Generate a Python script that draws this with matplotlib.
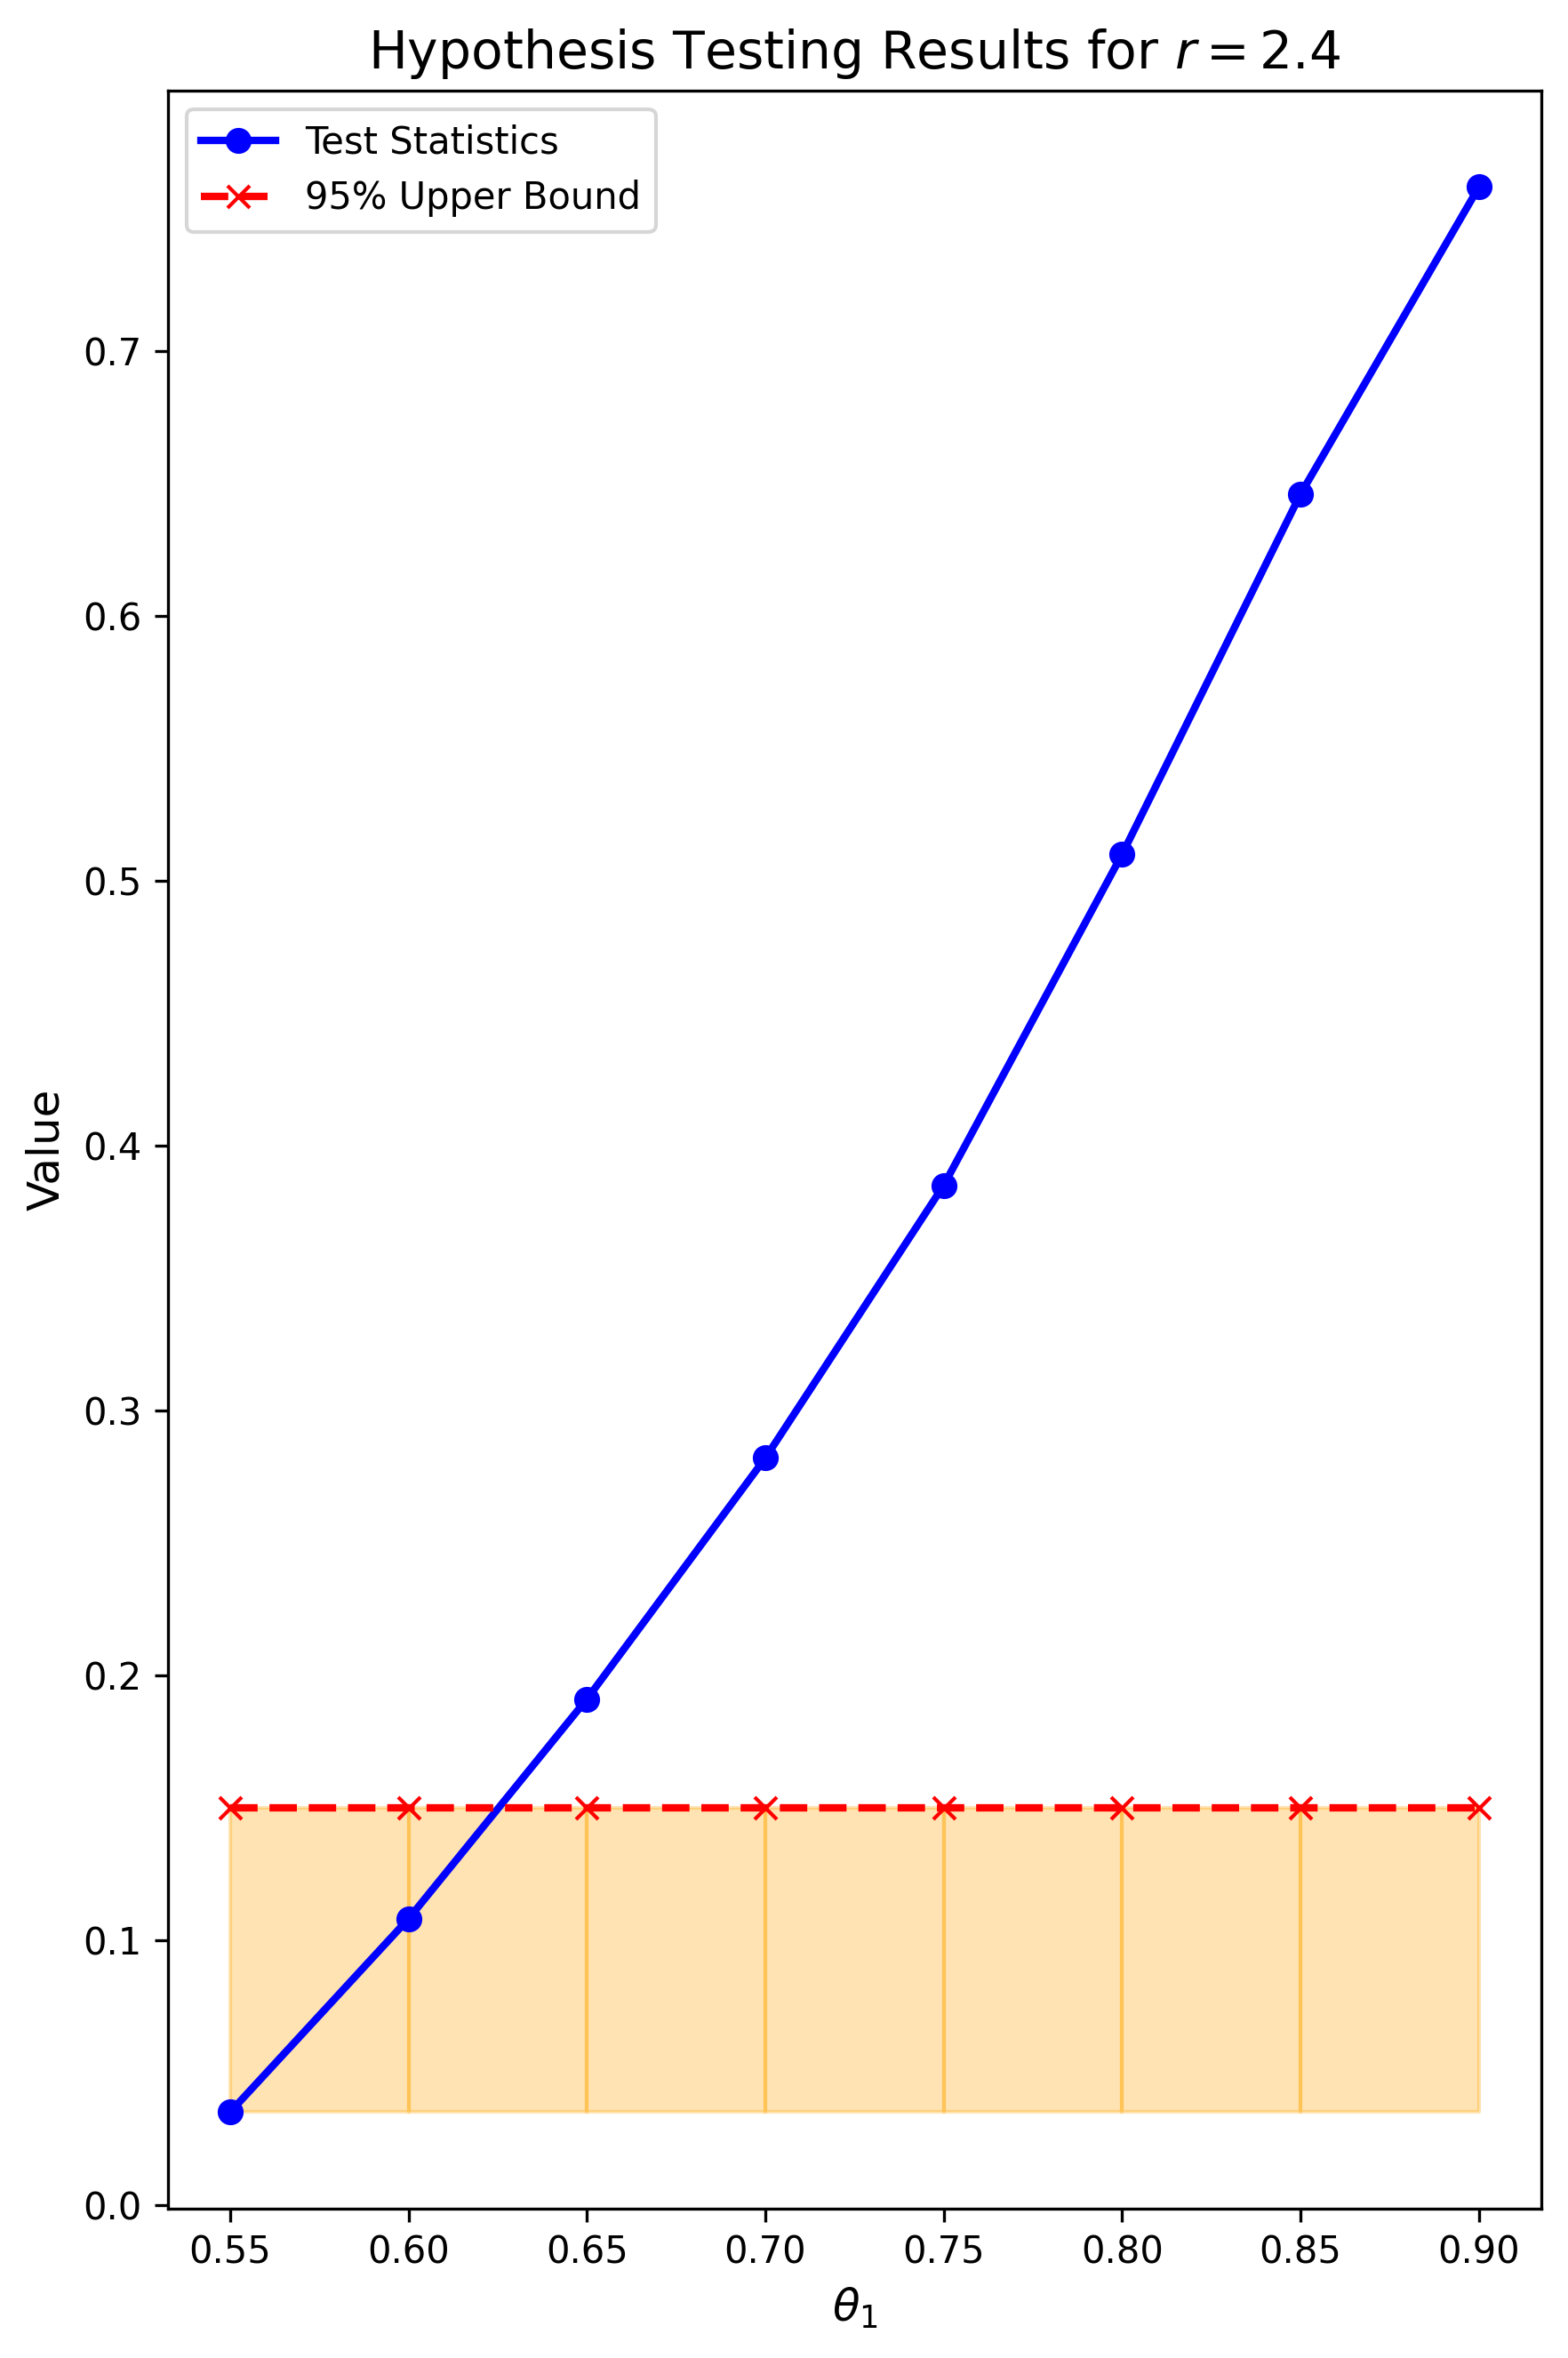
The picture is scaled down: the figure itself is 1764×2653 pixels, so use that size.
import numpy as np
import matplotlib
matplotlib.use("Agg")
import matplotlib.pyplot as plt

# values
theta1 = [0.55, 0.60, 0.65, 0.70, 0.75, 0.80, 0.85, 0.90]
test_stats = [0.035, 0.108, 0.191, 0.282, 0.385, 0.510, 0.646, 0.762]
upper_bound = [0.15, 0.15, 0.15, 0.15, 0.15, 0.15, 0.15, 0.15]
r = 2.4

fig, ax = plt.subplots(figsize=(1764 / 300, 2653 / 300), dpi=300)
fig.subplots_adjust(left=0.107, right=0.983, top=0.9615, bottom=0.0635)

ax.plot(theta1, test_stats, "o-", color="blue", lw=2, label="Test Statistics")
ax.plot(theta1, upper_bound, "x--", color="red", lw=2, label="95% Upper Bound")

low = min(test_stats)
for i in range(len(theta1) - 1):
    ax.fill_between(theta1[i:i + 2], low, upper_bound[i:i + 2],
                    color="orange", alpha=0.3)

ax.set_title(r"Hypothesis Testing Results for $r = %.1f$" % r, fontsize=14)
ax.set_xlabel(r"$\theta_1$", fontsize=12)
ax.set_ylabel("Value", fontsize=12)
ax.legend(loc="upper left")

fig.savefig("out.png", dpi=300)
